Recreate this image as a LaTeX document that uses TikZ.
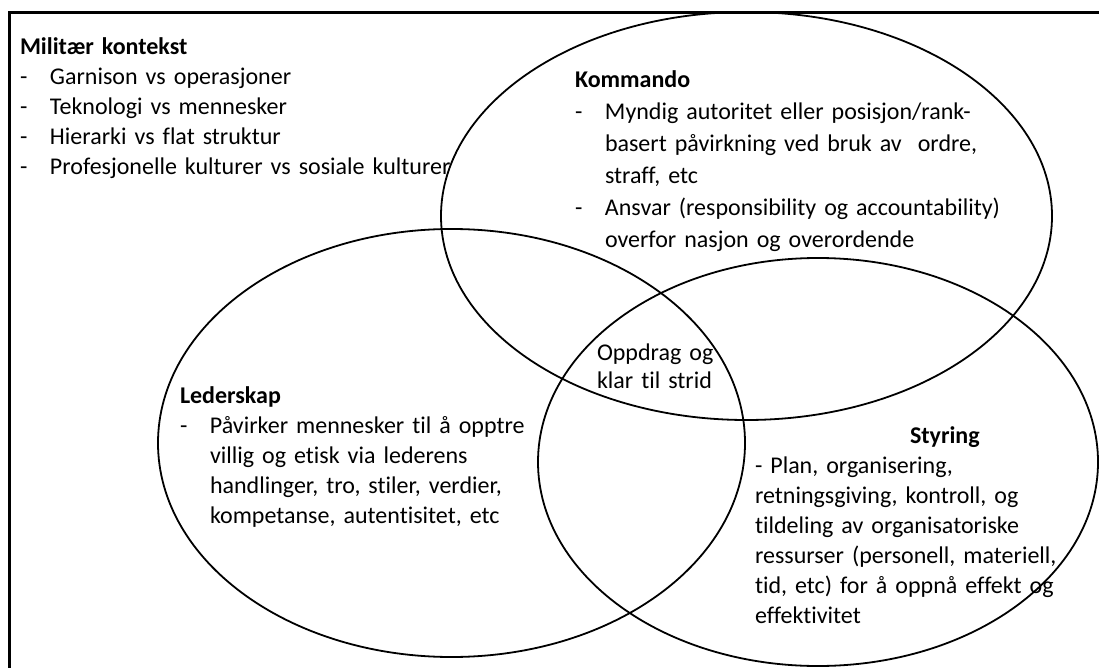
\documentclass[tikz,border=0pt]{standalone}
\usepackage{fontspec}
\setmainfont{Carlito}[Ligatures={NoCommon,NoContextual}]
\usetikzlibrary{shapes.geometric}
\newcommand\bulletdash{\makebox[30pt][l]{-}}
\newcommand\hang{\hspace*{30pt}}
\begin{document}
\begin{tikzpicture}[x=1pt,y=-1pt,
  ring/.style={draw, ellipse, line width=1.8pt, inner sep=0pt, outer sep=0pt},
  block/.style={anchor=base west, inner sep=0pt, outer sep=0pt,
    text width=520pt, align=left, font=\fontsize{24}{30}\selectfont},
]
\useasboundingbox (0,0) rectangle (1099,668);
\clip (0,0) rectangle (1099,668);

% outer frame (open to the right and bottom)
\draw[line width=2.7pt] (1110,12.7) -- (9.3,12.7) -- (9.3,680);

% the three overlapping areas
\node[ring, minimum width=611pt, minimum height=408pt] (kommando) at (746.5,216) {};
\node[ring, minimum width=587pt, minimum height=428pt] (lederskap) at (451.5,443) {};
\node[ring, minimum width=560pt, minimum height=408pt] (styring) at (818,462) {};

% texts
\node[block] (kontekst) at (20,55) {\textbf{Militær kontekst}\\
  \bulletdash Garnison vs operasjoner\\
  \bulletdash Teknologi vs mennesker\\
  \bulletdash Hierarki vs flat struktur\\
  \bulletdash Profesjonelle kulturer vs sosiale kulturer};

\node[block, font=\fontsize{24}{32}\selectfont] (kommandotext) at (575,88) {\textbf{Kommando}\\
  \bulletdash Myndig autoritet eller posisjon/rank-\\
  \hang basert påvirkning ved bruk av\ \ ordre,\\
  \hang straff, etc\\
  \bulletdash Ansvar (responsibility og accountability)\\
  \hang overfor nasjon og overordende};

\node[block] (ledertext) at (180,403) {\textbf{Lederskap}\\
  \bulletdash Påvirker mennesker til å opptre\\
  \hang villig og etisk via lederens\\
  \hang handlinger, tro, stiler, verdier,\\
  \hang kompetanse, autentisitet, etc};

\node[block, font=\fontsize{24}{28}\selectfont] (oppdrag) at (597,360) {Oppdrag og\\klar til strid};

\node[block] (styringhead) at (910,443) {\textbf{Styring}};
\node[block] (styringtext) at (755,473) {- Plan, organisering,\\
  retningsgiving, kontroll, og\\
  tildeling av organisatoriske\\
  ressurser (personell, materiell,\\
  tid, etc) for å oppnå effekt og\\
  effektivitet};
\end{tikzpicture}
\end{document}
